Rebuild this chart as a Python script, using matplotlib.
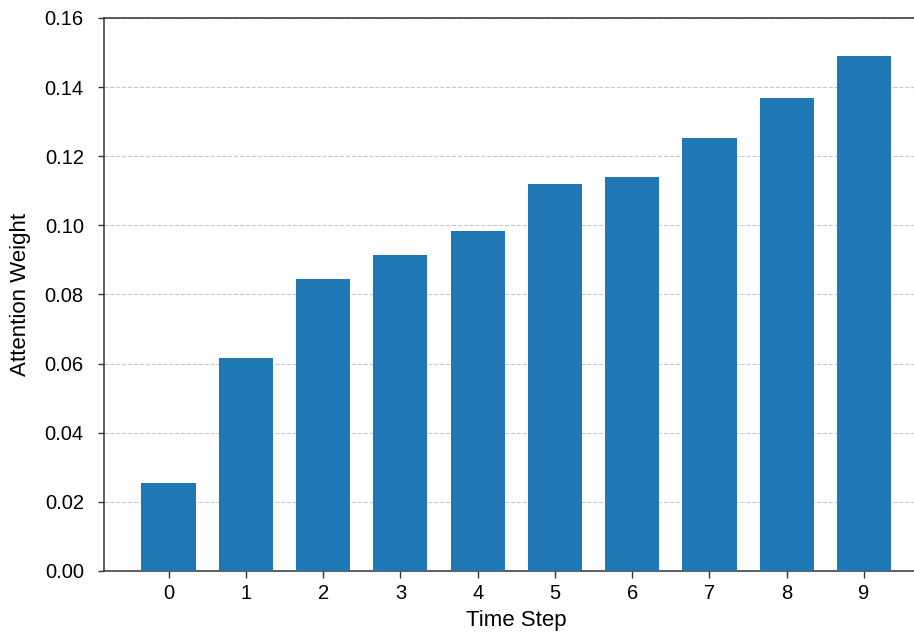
import matplotlib
matplotlib.use('Agg')

import matplotlib.pyplot as plt

time_steps = list(range(10))
weights = [0.0254, 0.0616, 0.0844, 0.0913, 0.0985, 0.1119, 0.1141, 0.1252, 0.1368, 0.1490]

plt.rcParams['font.family'] = ['Liberation Sans', 'DejaVu Sans']
plt.rcParams['font.size'] = 14.5

fig = plt.figure(figsize=(9.14, 6.35), dpi=100)
# the original image is cropped on the right, so the axes run past the edge
ax = fig.add_axes([0.1138, 0.1008, 0.9021, 0.8709])

ax.bar(time_steps, weights, width=0.7, color='#1f77b4', zorder=3)

ax.set_xticks(time_steps)
ax.set_ylim(0, 0.16)
ax.set_yticks([0.00, 0.02, 0.04, 0.06, 0.08, 0.10, 0.12, 0.14, 0.16])
ax.set_yticklabels([f'{v:.2f}' for v in ax.get_yticks()])
ax.set_xlabel('Time Step', fontsize=16, labelpad=5)
ax.set_ylabel('Attention Weight', fontsize=16, labelpad=10)

ax.grid(True, axis='y', linestyle='--', color='#c8c8c8', linewidth=0.8, zorder=0)
for s in ax.spines.values():
    s.set_linewidth(1.1)
    s.set_color('#333333')
ax.tick_params(width=1.0, color='#333333')
ax.tick_params(axis='x', length=5, pad=4.5)
ax.tick_params(axis='y', length=4.5, pad=10)

fig.savefig('out.png', dpi=100)
